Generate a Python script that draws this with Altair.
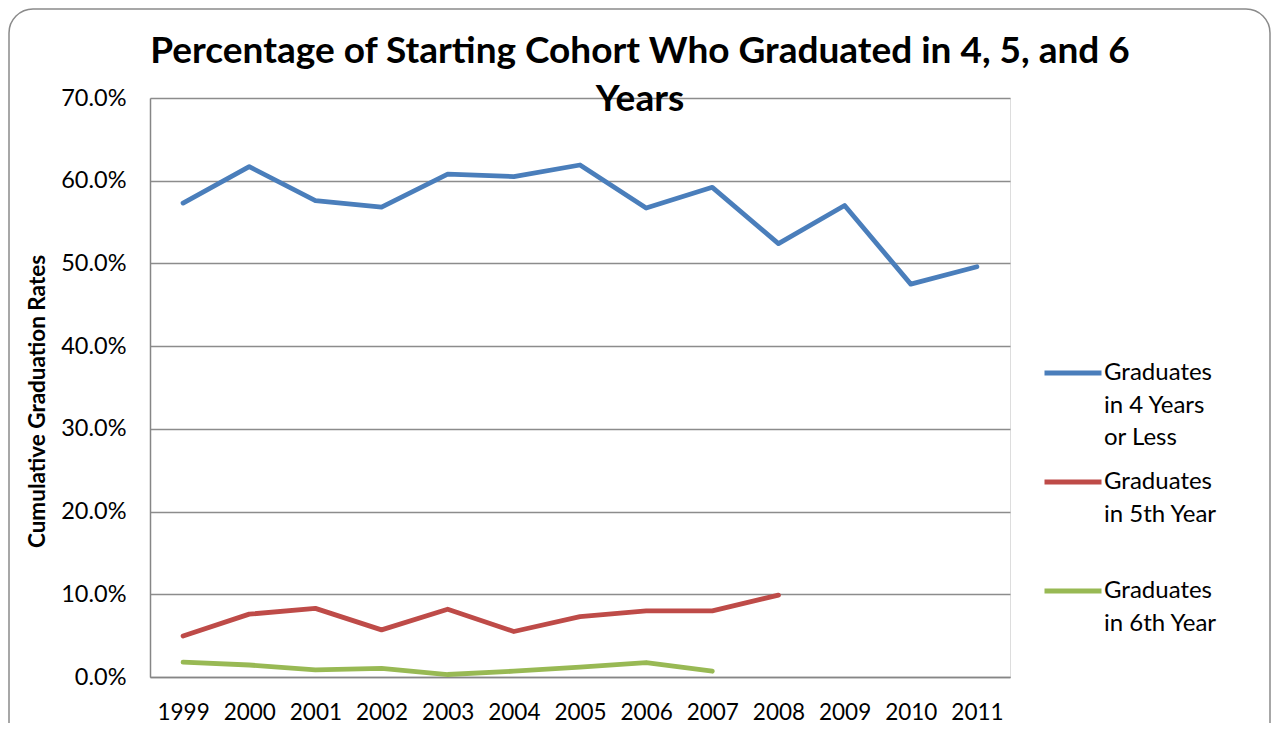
import altair as alt
import pandas as pd

years = ["1999", "2000", "2001", "2002", "2003", "2004", "2005", "2006", "2007", "2008", "2009", "2010", "2011"]
grad_4yr = [57.3, 61.7, 57.6, 56.8, 60.8, 60.5, 61.9, 56.7, 59.2, 52.4, 57.0, 47.5, 49.6]
grad_5th = [4.95, 7.6, 8.3, 5.7, 8.2, 5.5, 7.3, 8.0, 8.0, 9.9, None, None, None]
grad_6th = [1.8, 1.45, 0.85, 1.05, 0.3, 0.7, 1.2, 1.75, 0.7, None, None, None, None]
series_names = ["Graduates|in 4 Years|or Less", "Graduates|in 5th  Year| ", "Graduates|in 6th Year"]
series_colors = ["#4A7EBB", "#BE4B48", "#98B954"]
title_lines = ["Percentage of Starting Cohort Who Graduated in 4, 5, and 6", "Years"]
y_title = "Cumulative Graduation Rates"

rows = []
for name, vals in zip(series_names, [grad_4yr, grad_5th, grad_6th]):
    for yr, v in zip(years, vals):
        rows.append({"year": yr, "value": None if v is None else v / 100.0, "series": name})
df = pd.DataFrame(rows)

FONT = "Lato"
W, H = 860, 579

lines = alt.Chart(df).mark_line(strokeWidth=4.8, strokeCap="round", strokeJoin="round").encode(
    x=alt.X("year:O", scale=alt.Scale(type="point", padding=0.5),
            axis=alt.Axis(title=None, labelAngle=0, labelPadding=24, labelFontSize=22.5,
                          ticks=False, domainColor="#868686", domainWidth=1.5, grid=False,
                          labelColor="black", labelFont=FONT)),
    y=alt.Y("value:Q", scale=alt.Scale(domain=[0, 0.7], nice=False),
            axis=alt.Axis(title=y_title, format=".1%", values=[0, 0.1, 0.2, 0.3, 0.4, 0.5, 0.6, 0.7],
                          labelPadding=24, labelFontSize=23.5, labelColor="black", labelFont=FONT,
                          ticks=False, domainColor="#868686", domainWidth=1.5,
                          gridColor="#8C8C8C", gridWidth=1.5,
                          titleFont=FONT, titleFontSize=22.5, titleFontWeight="bold", titleColor="black",
                          titleX=-113, titleY=303, titleAngle=-90, titleAlign="center",
                          titleBaseline="middle")),
    color=alt.Color("series:N", scale=alt.Scale(domain=series_names, range=series_colors),
                    legend=alt.Legend(title=None, orient="none", legendX=892, legendY=244,
                                      symbolType="stroke", symbolStrokeWidth=5, symbolSize=3249,
                                      labelExpr="split(datum.label, '|')", labelFontSize=24,
                                      labelFont=FONT, labelColor="black", labelLimit=300,
                                      labelBaseline="middle", labelOffset=0, rowPadding=1)),
)

title_df = pd.DataFrame({"t": [title_lines[0]], "t2": [title_lines[1]]})
title1 = alt.Chart(title_df).mark_text(fontSize=37, fontWeight="bold", font=FONT, color="black",
                                       align="center", baseline="middle").encode(
    x=alt.value(490), y=alt.value(-46), text="t:N")
title2 = alt.Chart(title_df).mark_text(fontSize=37, fontWeight="bold", font=FONT, color="black",
                                       align="center", baseline="middle").encode(
    x=alt.value(490), y=alt.value(2), text="t2:N")

frame = alt.Chart(pd.DataFrame({"k": [0]})).mark_rect(fill=None, stroke="#8A8A8A", strokeWidth=1.5,
                                                     cornerRadius=24).encode(
    x=alt.value(-141), x2=alt.value(1120), y=alt.value(-89), y2=alt.value(680))

chart = alt.layer(frame, lines, title1, title2).properties(
    width=W, height=H,
    autosize=alt.AutoSizeParams(type="none"),
    padding={"left": 142, "top": 90, "right": 262, "bottom": 46},
).configure_view(stroke="#95B3D7", strokeWidth=1.5).configure(
    background="white", style={"guide-label": {"lineHeight": 32.5}})

chart.save("out.html", embed_options={"renderer": "svg", "actions": False})
